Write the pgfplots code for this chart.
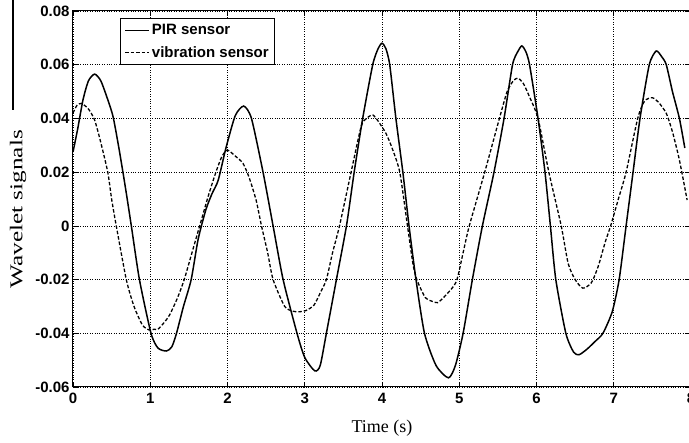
\documentclass[border=0pt]{standalone}
\usepackage{graphicx}
\usepackage{pgfplots}
\pgfplotsset{compat=1.18}
\usepackage{fontspec}
\setmainfont{Liberation Sans}
\newfontfamily\timesfont{Liberation Serif}

\begin{document}
\begin{tikzpicture}
\begin{axis}[
  at={(0pt,0pt)}, anchor=south west,
  width=618pt, height=376pt, scale only axis,
  xmin=0, xmax=8, ymin=-0.06, ymax=0.08,
  xtick={0,1,2,3,4,5,6,7,8},
  xticklabels={0,1,2,3,4,5,6,7,8},
  ytick={-0.06,-0.04,-0.02,0,0.02,0.04,0.06,0.08},
  yticklabels={-0.06,-0.04,-0.02,0,0.02,0.04,0.06,0.08},
  scaled y ticks=false,
  tick label style={font=\fontsize{15}{17}\selectfont\bfseries},
  xticklabel style={yshift=-3pt},
  tick align=inside, major tick length=5pt,
  tick style={black, line width=0.6pt},
  grid=major,
  grid style={black, dotted, line width=0.7pt},
  axis line style={black, line width=1pt},
  xlabel={Time (s)},
  ylabel={\scalebox{1.4}[1]{Wavelet signals}},
  label style={font=\timesfont\fontsize{18}{20}\selectfont},
  xlabel style={at={(axis description cs:0.5,-0.109)}, anchor=center},
  ylabel style={at={(axis description cs:-0.089,0.473)}, anchor=center},
  legend style={at={(axis description cs:0.076,0.981)}, anchor=north west,
    draw=black, line width=0.9pt, fill=white, inner sep=4pt, row sep=6pt,
    font=\fontsize{15}{17}\selectfont\bfseries},
  legend cell align=left,
  legend image code/.code={\draw[#1] (0pt,0pt) -- (24pt,0pt);},
]
% PIR sensor
\addplot[black, line width=1.5pt, smooth, tension=0.4] coordinates {
(0,0.0275)(0.06,0.036)(0.13,0.047)(0.2,0.054)(0.28,0.0565)(0.36,0.054)(0.45,0.047)
(0.52,0.0405)(0.6,0.028)(0.68,0.014)(0.755,0)(0.86,-0.02)(1.01,-0.04)(1.1,-0.0455)
(1.21,-0.0466)(1.28,-0.045)(1.34,-0.04)(1.43,-0.03)(1.53,-0.02)(1.62,-0.005)
(1.72,0.006)(1.8,0.012)(1.88,0.017)(1.98,0.029)(2.1,0.041)(2.21,0.0446)(2.31,0.04)
(2.46,0.02)(2.59,0)(2.72,-0.02)(2.9,-0.04)(3.0,-0.049)(3.13,-0.054)(3.2,-0.052)
(3.28,-0.04)(3.41,-0.02)(3.54,0)(3.64,0.02)(3.75,0.04)(3.88,0.06)(3.95,0.066)
(4.0,0.068)(4.05,0.066)(4.1,0.06)(4.18,0.04)(4.27,0.02)(4.35,0)(4.44,-0.02)
(4.55,-0.04)(4.7,-0.052)(4.86,-0.0566)(4.95,-0.052)(5.05,-0.04)(5.17,-0.02)
(5.3,0)(5.45,0.02)(5.58,0.04)(5.69,0.06)(5.76,0.065)(5.81,0.067)(5.86,0.065)
(5.91,0.06)(6.02,0.04)(6.11,0.02)(6.18,0)(6.25,-0.02)(6.38,-0.04)(6.48,-0.047)
(6.55,-0.048)(6.65,-0.046)(6.76,-0.043)(6.86,-0.04)(6.98,-0.032)(7.07,-0.02)
(7.16,0)(7.25,0.02)(7.34,0.04)(7.46,0.06)(7.55,0.0651)(7.62,0.063)(7.68,0.06)
(7.76,0.05)(7.85,0.04)(7.92,0.029)
};
\addlegendentry{PIR sensor}
% vibration sensor
\addplot[black, line width=1.3pt, dash pattern=on 3.5pt off 2pt, smooth, tension=0.4] coordinates {
(0,0.042)(0.05,0.0448)(0.11,0.0456)(0.2,0.0435)(0.28,0.0394)(0.36,0.031)(0.45,0.02)
(0.5,0.01)(0.56,0)(0.69,-0.02)(0.79,-0.03)(0.9,-0.037)(0.99,-0.0388)(1.05,-0.0385)
(1.1,-0.0385)(1.18,-0.036)(1.25,-0.0332)(1.35,-0.027)(1.44,-0.02)(1.54,-0.01)
(1.64,0)(1.75,0.011)(1.85,0.02)(1.93,0.026)(2.0,0.0282)(2.1,0.026)(2.2,0.0233)
(2.28,0.018)(2.37,0.0096)(2.44,0)(2.52,-0.01)(2.59,-0.02)(2.74,-0.03)(2.85,-0.0318)
(2.93,-0.032)(3.02,-0.0315)(3.12,-0.0295)(3.2,-0.025)(3.28,-0.02)(3.36,-0.01)
(3.45,0)(3.6,0.02)(3.73,0.037)(3.8,0.04)(3.88,0.0413)(3.95,0.039)(4.05,0.0345)
(4.13,0.029)(4.23,0.02)(4.33,0)(4.4,-0.014)(4.45,-0.02)(4.56,-0.0267)(4.64,-0.028)
(4.72,-0.0286)(4.82,-0.026)(4.96,-0.0209)(5.05,-0.01)(5.13,0)(5.33,0.02)(5.52,0.04)
(5.62,0.05)(5.7,0.054)(5.76,0.055)(5.83,0.053)(5.91,0.048)(6.02,0.04)(6.16,0.02)
(6.32,0)(6.41,-0.014)(6.5,-0.02)(6.6,-0.0232)(6.71,-0.0212)(6.8,-0.015)(6.89,-0.006)
(6.96,0)(7.06,0.01)(7.16,0.02)(7.31,0.04)(7.4,0.0465)(7.5,0.0477)(7.58,0.046)
(7.68,0.0419)(7.76,0.035)(7.85,0.0245)(7.95,0.0096)
};
\addlegendentry{vibration sensor}
\end{axis}
% stray rule at the left edge of the scanned figure
\draw[black, line width=1.2pt] (-60pt,387pt) -- (-60pt,277pt);
\pgfresetboundingbox
\path[use as bounding box] (-73pt,-56pt) rectangle (616pt,387pt);
\end{tikzpicture}
\end{document}
